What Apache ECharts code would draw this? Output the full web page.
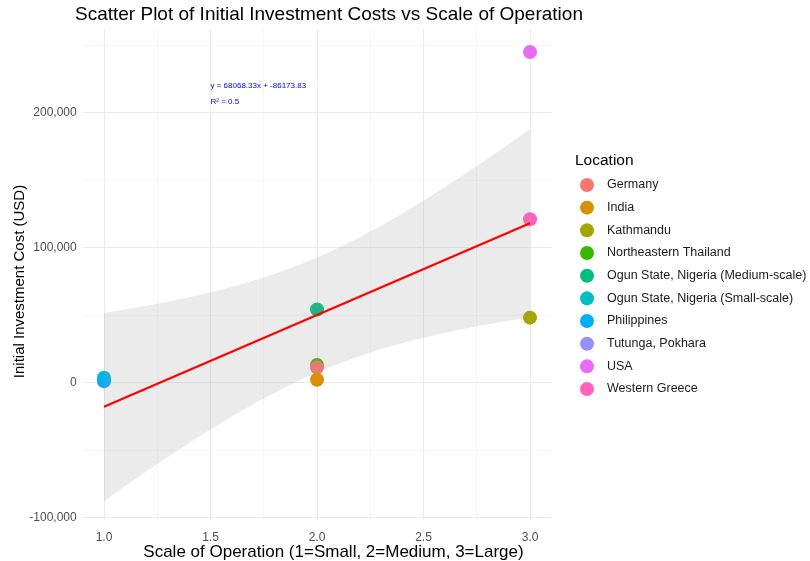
<!DOCTYPE html>
<html>
<head>
<meta charset="utf-8">
<title>Scatter Plot of Initial Investment Costs vs Scale of Operation</title>
<script src="https://cdn.jsdelivr.net/npm/echarts@6/dist/echarts.min.js"></script>
<style>
  html, body {margin: 0; padding: 0; background: #fff;}
  #chart {width: 810px; height: 561px;}
</style>
</head>
<body>
<div id="chart"></div>
<script>
// locations, their scale (1=small, 2=medium, 3=large) and cost in USD
const locations = ['Germany', 'India', 'Kathmandu', 'Northeastern Thailand',
    'Ogun State, Nigeria (Medium-scale)', 'Ogun State, Nigeria (Small-scale)',
    'Philippines', 'Tutunga, Pokhara', 'USA', 'Western Greece'];
const scales = [2, 2, 3, 2, 2, 1, 1, 1, 3, 3];
const costs = [11000, 2000, 48000, 13000, 54000, 3500, 1200, 900, 245000, 121000];
const colors = ['#F8766D', '#D89000', '#A3A500', '#39B600', '#00BF7D',
    '#00BFC4', '#00B0F6', '#9590FF', '#E76BF3', '#FF62BC'];
// drawing order of the points (row order of the data)
const drawOrder = [7, 5, 6, 3, 0, 1, 4, 2, 9, 8];

const xTicks = [1, 1.5, 2, 2.5, 3];
const xMinor = [1.25, 1.75, 2.25, 2.75];
const yTicks = [-100000, 0, 100000, 200000];
const yMinor = [-50000, 50000, 150000, 250000];

const eqText = 'y = 68068.33x + -86173.83';
const r2Text = 'R\u00b2 = 0.5';

// linear fit + 95% confidence band (like geom_smooth(method = "lm"))
let n = scales.length;
let mx = scales.reduce((a, b) => a + b, 0) / n;
let my = costs.reduce((a, b) => a + b, 0) / n;
let sxx = 0, sxy = 0;
for (let i = 0; i < n; i++) {
    sxx += (scales[i] - mx) * (scales[i] - mx);
    sxy += (scales[i] - mx) * (costs[i] - my);
}
let slope = sxy / sxx;
let icpt = my - slope * mx;
let sse = 0;
for (let i = 0; i < n; i++) {
    let r = costs[i] - (icpt + slope * scales[i]);
    sse += r * r;
}
let s = Math.sqrt(sse / (n - 2));
let tval = 2.306; // t(0.975, df = 8)
let bandX = [];
for (let k = 0; k <= 80; k++) bandX.push(1 + 2 * k / 80);
let upper = bandX.map(x => icpt + slope * x + tval * s * Math.sqrt(1 / n + (x - mx) * (x - mx) / sxx));
let lower = bandX.map(x => icpt + slope * x - tval * s * Math.sqrt(1 / n + (x - mx) * (x - mx) / sxx));

let myChart = echarts.init(document.getElementById('chart'));

let gridLines = [];
xTicks.forEach(v => gridLines.push({xAxis: v, lineStyle: {color: '#ebebeb', width: 1.1}}));
xMinor.forEach(v => gridLines.push({xAxis: v, lineStyle: {color: '#f4f4f4', width: 0.8}}));
yTicks.forEach(v => gridLines.push({yAxis: v, lineStyle: {color: '#ebebeb', width: 1.1}}));
yMinor.forEach(v => gridLines.push({yAxis: v, lineStyle: {color: '#f4f4f4', width: 0.8}}));

let series = [{
    name: 'grid',
    type: 'line',
    data: [],
    silent: true,
    z: 0,
    markLine: {
        silent: true,
        z: 0,
        symbol: 'none',
        label: {show: false},
        lineStyle: {type: 'solid'},
        animation: false,
        data: gridLines
    }
}];

drawOrder.forEach(i => {
    series.push({
        name: locations[i],
        type: 'scatter',
        symbolSize: 14,
        itemStyle: {color: colors[i], opacity: 1},
        data: [[scales[i], costs[i]]],
        z: 2
    });
});

series.push({
    name: 'band',
    type: 'custom',
    silent: true,
    z: 3,
    data: [[1, 0]],
    renderItem: function (params, api) {
        let pts = [];
        bandX.forEach((x, k) => pts.push(api.coord([x, upper[k]])));
        for (let k = bandX.length - 1; k >= 0; k--) pts.push(api.coord([bandX[k], lower[k]]));
        return {
            type: 'polygon',
            shape: {points: pts},
            style: {fill: 'rgba(153,153,153,0.2)'}
        };
    }
});

series.push({
    name: 'fit',
    type: 'line',
    silent: true,
    z: 4,
    symbol: 'none',
    lineStyle: {color: '#ff0000', width: 2.2},
    data: [[1, icpt + slope], [3, icpt + 3 * slope]]
});

series.push({
    name: 'eq',
    type: 'custom',
    silent: true,
    z: 5,
    data: [[1.5, 220000, eqText], [1.5, 208000, r2Text]],
    renderItem: function (params, api) {
        let p = api.coord([api.value(0), api.value(1)]);
        return {
            type: 'text',
            x: p[0],
            y: p[1],
            style: {
                text: params.dataIndex === 0 ? eqText : r2Text,
                fill: '#0000ff',
                font: '8px "Liberation Sans", Arial, sans-serif',
                align: 'left',
                verticalAlign: 'middle'
            }
        };
    }
});

myChart.setOption({
    animation: false,
    textStyle: {fontFamily: '"Liberation Sans", Arial, sans-serif'},
    title: {
        text: 'Scatter Plot of Initial Investment Costs vs Scale of Operation',
        left: 70,
        top: 0,
        textStyle: {fontSize: 19, fontWeight: 'normal', color: '#000'}
    },
    grid: {left: 82.7, right: 258.7, top: 29, bottom: 41, containLabel: false, outerBoundsMode: 'none'},
    legend: {
        orient: 'vertical',
        left: 575,
        top: 173,
        itemWidth: 30,
        itemHeight: 14,
        itemGap: 8.67,
        icon: 'circle',
        data: locations,
        textStyle: {fontSize: 12.5, color: '#1a1a1a'},
        selectedMode: false
    },
    graphic: [{
        type: 'text',
        left: 575,
        top: 153,
        style: {text: 'Location', font: '15.5px "Liberation Sans", Arial, sans-serif', fill: '#000'}
    }],
    xAxis: {
        type: 'value',
        min: 0.9,
        max: 3.1,
        name: 'Scale of Operation (1=Small, 2=Medium, 3=Large)',
        nameLocation: 'middle',
        nameGap: 24,
        nameMoveOverlap: false,
        nameTextStyle: {fontSize: 17, color: '#000', padding: [0, 0, 0, 33]},
        axisLine: {show: false},
        axisTick: {show: false},
        splitLine: {show: false},
        axisLabel: {
            fontSize: 12,
            color: '#4d4d4d',
            margin: 12,
            formatter: v => xTicks.some(t => Math.abs(t - v) < 1e-9) ? v.toFixed(1) : ''
        }
    },
    yAxis: {
        type: 'value',
        min: -102000,
        max: 262000,
        name: 'Initial Investment Cost (USD)',
        nameLocation: 'middle',
        nameGap: 55.5,
        nameMoveOverlap: false,
        nameTextStyle: {fontSize: 15, color: '#000', padding: [0, 14, 0, 0]},
        axisLine: {show: false},
        axisTick: {show: false},
        splitLine: {show: false},
        axisLabel: {
            fontSize: 12,
            color: '#4d4d4d',
            margin: 6,
            formatter: v => yTicks.some(t => Math.abs(t - v) < 1e-6) ? v.toLocaleString('en-US') : ''
        }
    },
    series: series
});
</script>
</body>
</html>
